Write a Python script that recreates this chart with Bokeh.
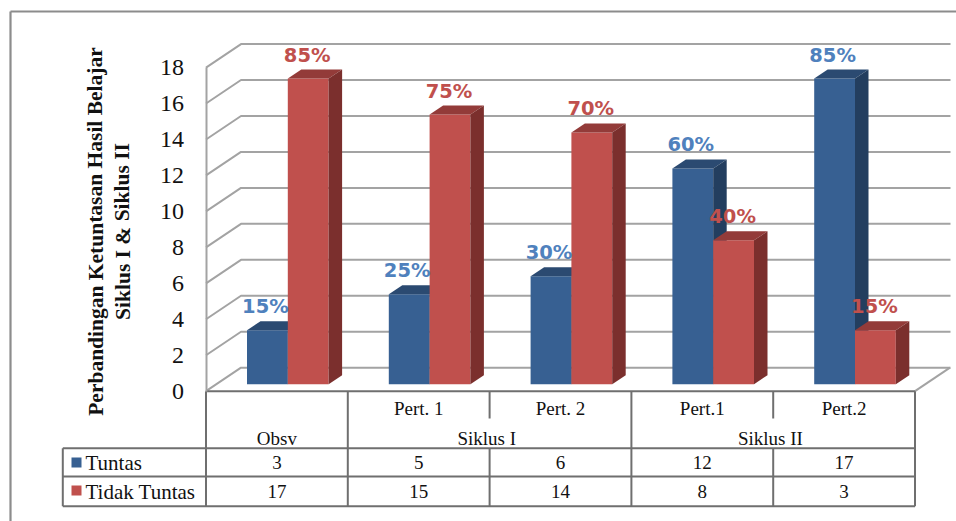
from bokeh.plotting import figure
from bokeh.models import LinearAxis, FixedTicker, Range1d
from bokeh.core.properties import value
from bokeh.embed import file_html
from bokeh.resources import INLINE

# ---- data ----
categories = ["Pert. 1", "Pert. 2", "Pert.1", "Pert.2"]
groups = ["Obsv", "Siklus I", "Siklus II"]
tuntas = [3, 5, 6, 12, 17]
tidak_tuntas = [17, 15, 14, 8, 3]
tuntas_pct = ["15%", "25%", "30%", "60%", "85%"]
tidak_pct = ["85%", "75%", "70%", "40%", "15%"]
series_names = ["Tuntas", "Tidak Tuntas"]
y_ticks = [0, 2, 4, 6, 8, 10, 12, 14, 16, 18]
axis_title = ["Perbandingan Ketuntasan Hasil Belajar", "Siklus I & Siklus II"]

# ---- layout ----
W, H = 956, 521
ORG = 0                    # page px of the figure's corner
X0, UX = 205.5, 141.8      # page px of category 0, px per category
Y0, UY = 390.7, 17.98      # page px of value 0, px per value


def fx(px):
    return (px - X0) / UX


def fy(py):
    return (Y0 - py) / UY


p = figure(width=W, height=H, output_backend="svg", toolbar_location=None,
           x_range=Range1d(fx(ORG), fx(ORG + W)), y_range=Range1d(fy(ORG + H), fy(ORG)),
           x_axis_type=None, y_axis_type=None,
           min_border=0, min_border_left=0, min_border_right=0, min_border_top=0, min_border_bottom=0,
           outline_line_color=None, background_fill_color="white", border_fill_color="white")
p.grid.visible = False

WALL = "#a3a3a3"
TABLE = "#6f6f6f"
FRAME = "#8c8c8c"
SERIF = value("Liberation Serif")

# outer frame
p.line([fx(10), fx(10)], [fy(ORG + H), fy(11)], line_color=FRAME, line_width=2.2)
p.line([fx(10), fx(ORG + W)], [fy(11), fy(11)], line_color=FRAME, line_width=2.2)

# 3D walls
back_dx, back_dy = 35 / UX, 23.5 / UY
right = 5.0
for t in y_ticks:
    p.line([0, back_dx, fx(950)], [t, t + back_dy, t + back_dy], line_color=WALL, line_width=2)
p.line([right, right + back_dx], [0, back_dy], line_color=WALL, line_width=2)

# real value axis, on the front edge of the wall
ax = LinearAxis(fixed_location=0, ticker=FixedTicker(ticks=y_ticks), bounds=(0, 18))
ax.axis_line_color = WALL
ax.axis_line_width = 2
ax.major_tick_line_color = None
ax.minor_tick_line_color = None
ax.major_label_standoff = 16
ax.major_label_text_font = "Times New Roman"
ax.major_label_text_font_size = "24px"
ax.major_label_text_font_style = "normal"
ax.major_label_text_color = "#111111"
p.add_layout(ax, "left")

# bars
BASE = 7 / UY
DX, DY = 13.5 / UX, 9 / UY
OFF, BW = 41 / UX, 40.8 / UX


def bars(vals, start, front, top, side):
    for i, v in enumerate(vals):
        l, r = i + start, i + start + BW
        b, t = BASE, BASE + v
        p.quad(left=[l], right=[r], bottom=[b], top=[t], fill_color=front, line_color=None)
        p.patch([l, r, r + DX, l + DX], [t, t, t + DY, t + DY], fill_color=top, line_color=None)
        p.patch([r, r + DX, r + DX, r], [b, b + DY, t + DY, t], fill_color=side, line_color=None)


bars(tuntas, OFF, "#376092", "#2b4a71", "#233e5f")
bars(tidak_tuntas, OFF + BW, "#c0504d", "#933b39", "#7b2f2d")


def labels(vals, texts, start, color):
    xs = [i + start + BW / 2 for i in range(len(vals))]
    ys = [BASE + v + 23.5 / UY for v in vals]
    p.text(xs, ys, text=texts, text_color=color, text_align="center", text_baseline="middle",
           text_font=value("DejaVu Sans"), text_font_style="bold", text_font_size="19.5px")


labels(tuntas, tuntas_pct, OFF - 2 / UX, "#4f81bd")
labels(tidak_tuntas, tidak_pct, OFF + BW - 1 / UX, "#c0504d")

# data table grid
rows = [fy(447.7), fy(476), fy(505.7)]
for r in rows:
    p.line([fx(62.3), right], [r, r], line_color=TABLE, line_width=2)
p.line([0, right], [0, 0], line_color=TABLE, line_width=2)
p.line([fx(62.3), fx(62.3)], [rows[0], rows[2]], line_color=TABLE, line_width=2)
for c in [0, 1, 3, 5]:
    p.line([c, c], [0, rows[2]], line_color=TABLE, line_width=2)
for c in [2, 4]:
    p.line([c, c], [0, fy(418)], line_color=TABLE, line_width=2)
    p.line([c, c], [rows[0], rows[2]], line_color=TABLE, line_width=2)


def table_text(xs, ys, texts, align="center", size="19px"):
    p.text(xs, ys, text=texts, text_color="#111111", text_align=align, text_baseline="middle",
           text_font=SERIF, text_font_size=size)


idx = [i + 0.5 for i in range(5)]
table_text(idx[1:], [fy(408)] * 4, categories)
table_text([0.5, 1.98, 3.98], [fy(438)] * 3, groups)
table_text(idx, [fy(462)] * 5, [str(v) for v in tuntas])
table_text(idx, [fy(491)] * 5, [str(v) for v in tidak_tuntas])
table_text([fx(85)] * 2, [fy(462), fy(491)], series_names, align="left", size="21px")

# legend keys in the table
for yc, col in [(462, "#376092"), (490, "#c0504d")]:
    p.quad(left=[fx(71)], right=[fx(81)], bottom=[fy(yc + 5)], top=[fy(yc - 5)], fill_color=col, line_color=None)

# axis title
p.text([fx(95), fx(122)], [fy(231)] * 2, text=axis_title, angle=1.5708, text_color="#111111",
       text_align="center", text_baseline="middle", text_font=SERIF, text_font_style="bold",
       text_font_size="21.5px")

open("out.html", "w").write(file_html(p, INLINE))
